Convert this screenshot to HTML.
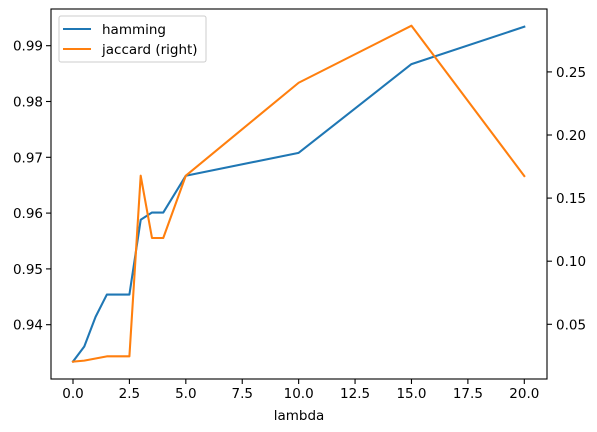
<!DOCTYPE html>
<html><head><meta charset="utf-8"><style>body{margin:0;background:#fff}svg{display:block;font-family:"DejaVu Sans","Liberation Sans",sans-serif}</style></head>
<body>
<svg id="chart" width="597" height="432" viewBox="0 0 597 432"></svg>
<script>
const lambdas=[0,0.5,1,1.5,2,2.5,3,3.5,4,5,10,15,20];
const hamming=[0.9334,0.9361,0.9414,0.9454,0.9454,0.9454,0.9588,0.9601,0.9601,0.9667,0.9708,0.9867,0.9934];
const jaccard=[0.0204,0.0212,0.0229,0.0246,0.0246,0.0246,0.1678,0.1184,0.1184,0.1678,0.2414,0.2866,0.1675];
const xTicks=[0,2.5,5,7.5,10,12.5,15,17.5,20];
const xTickLabels=["0.0","2.5","5.0","7.5","10.0","12.5","15.0","17.5","20.0"];
const yTicks=[0.94,0.95,0.96,0.97,0.98,0.99];
const yTickLabels=["0.94","0.95","0.96","0.97","0.98","0.99"];
const y2Ticks=[0.05,0.10,0.15,0.20,0.25];
const y2TickLabels=["0.05","0.10","0.15","0.20","0.25"];

const L=51,R=547,T=9,B=379;
const sx=v=>73+(v-0)*(524.3-73)/20;
const sy=v=>324.7-(v-0.94)*5580;
const sy2=v=>324.3-(v-0.05)*1262;
const svg=document.getElementById('chart');
const NS='http://www.w3.org/2000/svg';
function mk(tag,attrs,parent){const e=document.createElementNS(NS,tag);for(const k in attrs)e.setAttribute(k,attrs[k]);(parent||svg).appendChild(e);return e;}

function line(vals,scale,color,name){
  const p=mk('polyline',{points:lambdas.map((x,i)=>sx(x).toFixed(2)+','+scale(vals[i]).toFixed(2)).join(' '),fill:'none',stroke:color,'stroke-width':2.08,'stroke-linejoin':'round','stroke-linecap':'square'});
  
  
}
line(hamming,sy,'#1f77b4','hamming-line');
line(jaccard,sy2,'#ff7f0e','jaccard-line');

const fr=mk('rect',{x:L,y:T,width:R-L,height:B-T,fill:'none',stroke:'#000','stroke-width':1.1});



xTicks.forEach((v,i)=>{
  const x=sx(v);
  const t=mk('line',{x1:x,x2:x,y1:B,y2:B+5,stroke:'#000','stroke-width':1.1});
  
  
  const l=mk('text',{x:x,y:B+19,'text-anchor':'middle','font-size':'13.5px',fill:'#000'});
  l.textContent=xTickLabels[i];
  
  
});
yTicks.forEach((v,i)=>{
  const y=sy(v);
  const t=mk('line',{x1:L-5,x2:L,y1:y,y2:y,stroke:'#000','stroke-width':1.1});
  
  
  const l=mk('text',{x:L-8,y:y+5,'text-anchor':'end','font-size':'13.5px',fill:'#000'});
  l.textContent=yTickLabels[i];
  
  
});
y2Ticks.forEach((v,i)=>{
  const y=sy2(v);
  const t=mk('line',{x1:R,x2:R+5,y1:y,y2:y,stroke:'#000','stroke-width':1.1});
  
  
  const l=mk('text',{x:R+9,y:y+5,'text-anchor':'start','font-size':'13.5px',fill:'#000'});
  l.textContent=y2TickLabels[i];
  
  
});
const xt=mk('text',{x:299,y:420,'text-anchor':'middle','font-size':'13.5px',fill:'#000'});
xt.textContent='lambda';



const lg=mk('g',{});


mk('rect',{x:59,y:16,width:147,height:46,rx:2,fill:'#fff','fill-opacity':0.8,stroke:'#ccc','stroke-width':1},lg);
[['hamming','#1f77b4',29],['jaccard (right)','#ff7f0e',49]].forEach(([n,c,y])=>{
  const g=mk('g',{},lg);
  
  
  mk('line',{x1:63,x2:91,y1:y,y2:y,stroke:c,'stroke-width':2.08},g);
  const t=mk('text',{x:102,y:y+5,'font-size':'13.5px',fill:'#000'},g);
  t.textContent=n;
});
</script>
</body></html>
